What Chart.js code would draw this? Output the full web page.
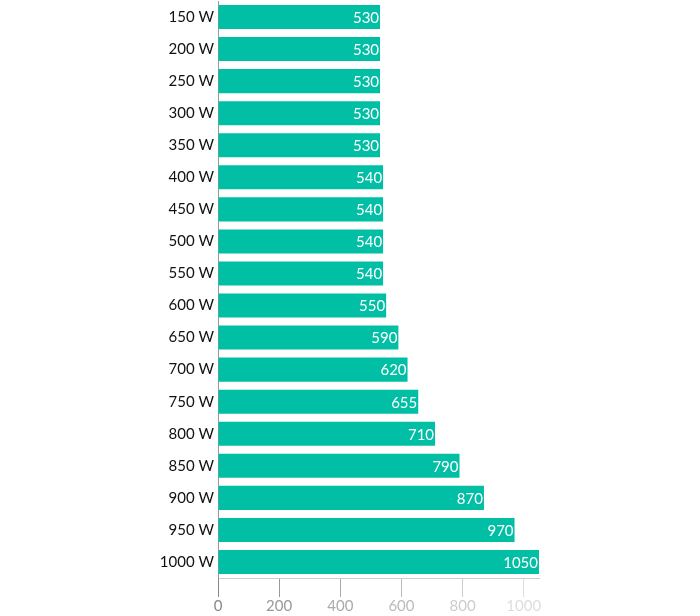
<!DOCTYPE html>
<html>
<head>
<meta charset="utf-8">
<script src="https://cdn.jsdelivr.net/npm/chart.js@4.4.1/dist/chart.umd.min.js"></script>
<style>
  html, body { margin: 0; padding: 0; background: #fff; }
  #wrap { width: 700px; height: 616px; }
</style>
</head>
<body>
<div id="wrap"><canvas id="myChart"></canvas></div>
<script>
// 정격 출력별 값
const categories = ['150 W', '200 W', '250 W', '300 W', '350 W', '400 W', '450 W', '500 W', '550 W',
    '600 W', '650 W', '700 W', '750 W', '800 W', '850 W', '900 W', '950 W', '1000 W'];
const values = [530, 530, 530, 530, 530, 540, 540, 540, 540, 550, 590, 620, 655, 710, 790, 870, 970, 1050];
const tickValues = [0, 200, 400, 600, 800, 1000];
const tickColors = ['#888888', '#999999', '#aaaaaa', '#bbbbbb', '#cccccc', '#dddddd'];

// 막대 끝에 값 표시
const valueLabels = {
    id: 'valueLabels',
    afterDatasetsDraw(chart) {
        const ctx = chart.ctx;
        const meta = chart.getDatasetMeta(0);
        ctx.save();
        ctx.font = '15px Lato';
        ctx.fillStyle = '#ffffff';
        ctx.textAlign = 'right';
        ctx.textBaseline = 'middle';
        meta.data.forEach(function(bar, i) {
            ctx.fillText(String(values[i]), bar.x - 1, bar.y + 1);
        });
        ctx.restore();
    }
};

const ctx = document.getElementById('myChart').getContext('2d');
const myChart = new Chart(ctx, {
    type: 'bar',
    data: {
        labels: categories,
        datasets: [
            {
                data: values,
                backgroundColor: '#00bfa5',
                borderWidth: 0,
                barPercentage: 0.75,
                categoryPercentage: 1
            }
        ]
    },
    options: {
        indexAxis: 'y',
        responsive: true,
        maintainAspectRatio: false,
        animation: false,
        layout: {
            padding: { top: 1, right: 161, left: 0, bottom: 0 }
        },
        plugins: {
            legend: { display: false },
            tooltip: { enabled: false }
        },
        scales: {
            x: {
                min: 0,
                max: 1050,
                afterBuildTicks(scale) {
                    scale.ticks = tickValues.map(v => ({ value: v }));
                },
                afterFit(scale) {
                    scale.height = 38;
                    scale.paddingLeft = 0;
                    scale.paddingRight = 0;
                },
                border: { display: true, color: '#cccccc', width: 1 },
                grid: {
                    drawOnChartArea: false,
                    drawTicks: true,
                    tickLength: 19,
                    color: c => tickColors[c.index] || '#dddddd'
                },
                ticks: {
                    padding: 2,
                    font: { family: 'Lato', size: 15, lineHeight: 1 },
                    color: c => tickColors[c.index] || '#dddddd',
                    callback: v => String(v)
                }
            },
            y: {
                afterFit(scale) {
                    scale.width = 218;
                    scale.paddingTop = 0;
                    scale.paddingBottom = 0;
                },
                border: { display: true, color: '#999999', width: 1 },
                grid: { display: false, drawTicks: false },
                ticks: {
                    padding: 4,
                    font: { family: 'Lato', size: 15 },
                    color: '#111111'
                }
            }
        }
    },
    plugins: [valueLabels]
});
</script>
</body>
</html>
